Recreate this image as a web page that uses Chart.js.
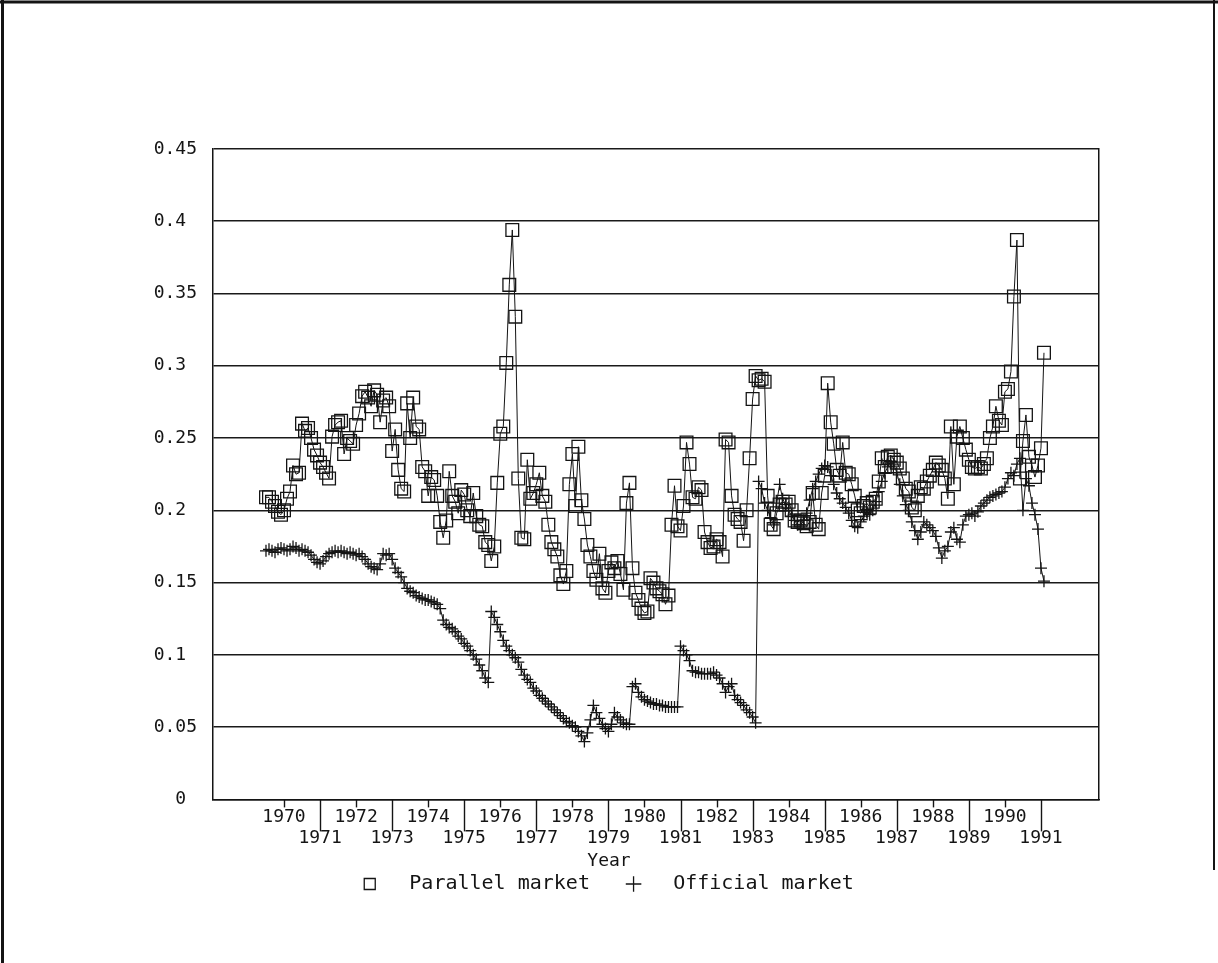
<!DOCTYPE html>
<html>
<head>
<meta charset="utf-8">
<script src="https://cdn.jsdelivr.net/npm/chart.js@4.4.1/dist/chart.umd.min.js"></script>
<style>
html, body { margin: 0; padding: 0; background: #fff; }
#wrap { width: 1218px; height: 963px; }
</style>
</head>
<body>
<div id="wrap"><canvas id="chart" width="1218" height="963"></canvas></div>
<script>
// monthly observations, first one at START_YEAR
var START_YEAR = 1969.5;

var parallelMarket = [
  0.209, 0.209, 0.206, 0.203, 0.199, 0.197, 0.200, 0.208, 0.213, 0.231, 0.225, 0.226,
  0.260, 0.255, 0.257, 0.250, 0.242, 0.238, 0.233, 0.230, 0.226, 0.222, 0.251, 0.259,
  0.261, 0.262, 0.239, 0.250, 0.248, 0.246, 0.259, 0.267, 0.279, 0.282, 0.278, 0.272,
  0.283, 0.280, 0.261, 0.276, 0.278, 0.272, 0.241, 0.256, 0.228, 0.215, 0.213, 0.274,
  0.250, 0.278, 0.258, 0.256, 0.230, 0.227, 0.210, 0.223, 0.221, 0.210, 0.192, 0.181,
  0.193, 0.227, 0.210, 0.206, 0.198, 0.214, 0.211, 0.200, 0.196, 0.212, 0.196, 0.190,
  0.189, 0.178, 0.176, 0.165, 0.175, 0.219, 0.253, 0.258, 0.302, 0.356, 0.394, 0.334,
  0.222, 0.181, 0.180, 0.235, 0.208, 0.212, 0.218, 0.226, 0.210, 0.206, 0.190, 0.178,
  0.173, 0.168, 0.155, 0.149, 0.158, 0.218, 0.239, 0.203, 0.244, 0.207, 0.194, 0.176,
  0.168, 0.158, 0.152, 0.170, 0.146, 0.143, 0.158, 0.164, 0.160, 0.165, 0.156, 0.145,
  0.205, 0.219, 0.160, 0.143, 0.138, 0.132, 0.129, 0.130, 0.153, 0.150, 0.146, 0.144,
  0.142, 0.135, 0.141, 0.190, 0.217, 0.189, 0.186, 0.203, 0.247, 0.232, 0.209, 0.208,
  0.216, 0.214, 0.185, 0.178, 0.174, 0.175, 0.180, 0.178, 0.168, 0.249, 0.247, 0.210,
  0.197, 0.194, 0.192, 0.179, 0.200, 0.236, 0.277, 0.293, 0.290, 0.291, 0.289, 0.210,
  0.190, 0.187, 0.198, 0.204, 0.206, 0.204, 0.206, 0.200, 0.193, 0.192, 0.193, 0.191,
  0.189, 0.192, 0.212, 0.190, 0.187, 0.212, 0.224, 0.288, 0.261, 0.246, 0.228, 0.224,
  0.247, 0.226, 0.225, 0.218, 0.210, 0.200, 0.198, 0.203, 0.205, 0.202, 0.206, 0.208,
  0.220, 0.236, 0.230, 0.237, 0.238, 0.235, 0.233, 0.229, 0.222, 0.215, 0.213, 0.202,
  0.200, 0.210, 0.216, 0.215, 0.220, 0.224, 0.228, 0.233, 0.231, 0.228, 0.222, 0.208,
  0.258, 0.218, 0.251, 0.258, 0.250, 0.242, 0.235, 0.230, 0.229, 0.230, 0.229, 0.232,
  0.236, 0.250, 0.258, 0.272, 0.262, 0.259, 0.282, 0.284, 0.296, 0.348, 0.387, 0.222,
  0.248, 0.266, 0.237, 0.231, 0.223, 0.231, 0.243, 0.309
];

var officialMarket = [
  0.172, 0.173, 0.172, 0.171, 0.173, 0.174, 0.173, 0.172, 0.173, 0.175, 0.174, 0.172,
  0.173, 0.172, 0.171, 0.169, 0.166, 0.164, 0.163, 0.165, 0.168, 0.170, 0.171, 0.172,
  0.171, 0.172, 0.171, 0.170, 0.171, 0.170, 0.169, 0.170, 0.168, 0.166, 0.163, 0.161,
  0.160, 0.159, 0.163, 0.170, 0.169, 0.170, 0.166, 0.160, 0.157, 0.154, 0.150, 0.146,
  0.144, 0.143, 0.141, 0.140, 0.139, 0.138, 0.138, 0.137, 0.136, 0.135, 0.132, 0.124,
  0.121, 0.119, 0.118, 0.116, 0.113, 0.111, 0.108, 0.106, 0.103, 0.100, 0.097, 0.093,
  0.089, 0.084, 0.081, 0.130, 0.126, 0.121, 0.116, 0.110, 0.106, 0.103, 0.100, 0.098,
  0.095, 0.090, 0.086, 0.083, 0.081, 0.077, 0.075, 0.072, 0.070, 0.068, 0.066, 0.064,
  0.062, 0.060, 0.058, 0.056, 0.054, 0.053, 0.051, 0.050, 0.047, 0.044, 0.040, 0.046,
  0.055, 0.065, 0.060, 0.056, 0.052, 0.049, 0.047, 0.052, 0.060, 0.057, 0.055, 0.053,
  0.052, 0.052, 0.078, 0.080, 0.074, 0.071, 0.069, 0.068, 0.067, 0.066, 0.066, 0.065,
  0.065, 0.064, 0.064, 0.064, 0.064, 0.064, 0.106, 0.103, 0.100, 0.096, 0.089, 0.088,
  0.088, 0.087, 0.087, 0.087, 0.087, 0.088, 0.086, 0.084, 0.080, 0.074, 0.078, 0.080,
  0.072, 0.069, 0.067, 0.065, 0.062, 0.060, 0.057, 0.053, 0.220, 0.215, 0.205, 0.200,
  0.195, 0.190, 0.205, 0.218, 0.208, 0.204, 0.200, 0.196, 0.193, 0.190, 0.190, 0.193,
  0.198, 0.207, 0.215, 0.220, 0.225, 0.229, 0.231, 0.230, 0.224, 0.218, 0.212, 0.208,
  0.205, 0.202, 0.198, 0.193, 0.189, 0.188, 0.192, 0.196, 0.199, 0.197, 0.200, 0.206,
  0.213, 0.220, 0.226, 0.230, 0.234, 0.232, 0.226, 0.218, 0.210, 0.204, 0.200, 0.192,
  0.186, 0.180, 0.185, 0.192, 0.190, 0.188, 0.186, 0.182, 0.174, 0.167, 0.172, 0.175,
  0.185, 0.188, 0.180, 0.178, 0.190, 0.196, 0.197, 0.198, 0.196, 0.199, 0.203, 0.205,
  0.207, 0.209, 0.210, 0.211, 0.212, 0.213, 0.216, 0.222, 0.226, 0.224, 0.232, 0.236,
  0.200, 0.222, 0.217, 0.205, 0.197, 0.187, 0.160, 0.151
];

var xTickYears = [1970, 1971, 1972, 1973, 1974, 1975, 1976, 1977, 1978, 1979, 1980,
  1981, 1982, 1983, 1984, 1985, 1986, 1987, 1988, 1989, 1990, 1991];
var yTickValues = [0, 0.05, 0.1, 0.15, 0.2, 0.25, 0.3, 0.35, 0.4, 0.45];
var yTickLabels = ['0 ', '0.05', '0.1 ', '0.15', '0.2 ', '0.25', '0.3 ', '0.35', '0.4 ', '0.45'];
var seriesNames = ['Parallel market', 'Official market'];
var axisTitle = 'Year';

var FONT = "'DejaVu Sans Mono', 'Liberation Mono', monospace";
var INK = '#141414';

function monthly(arr) {
  return arr.map(function(v, i) { return { x: START_YEAR + i / 12, y: v }; });
}

var framePlugin = {
  id: 'frame',
  beforeDraw: function(chart) {
    var c = chart.ctx;
    c.save();
    c.fillStyle = '#fff';
    c.fillRect(0, 0, chart.width, chart.height);
    c.restore();
  },
  afterDraw: function(chart) {
    var c = chart.ctx, xs = chart.scales.x, b = chart.chartArea.bottom;
    c.save();
    c.strokeStyle = INK;
    c.lineWidth = 1.4;
    // short ticks for the upper row of years, long ones for the lower row
    xTickYears.forEach(function(yr) {
      var px = Math.round(xs.getPixelForValue(yr)) + 0.5;
      c.beginPath();
      c.moveTo(px, b);
      c.lineTo(px, b + (yr % 2 ? 32 : 8));
      c.stroke();
    });
    // page border
    c.lineWidth = 3;
    c.beginPath();
    c.moveTo(0, 2); c.lineTo(chart.width, 2);
    c.moveTo(2.5, 0); c.lineTo(2.5, chart.height);
    c.stroke();
    c.lineWidth = 2;
    c.beginPath();
    c.moveTo(chart.width - 4, 0); c.lineTo(chart.width - 4, 870);
    c.stroke();
    c.restore();
  }
};

var ctx = document.getElementById('chart').getContext('2d');
new Chart(ctx, {
  type: 'line',
  data: {
    datasets: [{
      label: '  ' + seriesNames[0] + '   ',
      data: monthly(parallelMarket),
      borderColor: INK, borderWidth: 1, tension: 0, fill: false,
      backgroundColor: 'rgba(0,0,0,0)',
      pointStyle: 'rect', pointRadius: 9, pointBorderWidth: 1.3,
      pointBackgroundColor: 'rgba(0,0,0,0)', pointBorderColor: INK
    }, {
      label: '  ' + seriesNames[1],
      data: monthly(officialMarket),
      borderColor: INK, borderWidth: 1, tension: 0, fill: false,
      backgroundColor: 'rgba(0,0,0,0)',
      pointStyle: 'cross', pointRadius: 6, pointBorderWidth: 1.3,
      pointBackgroundColor: 'rgba(0,0,0,0)', pointBorderColor: INK
    }]
  },
  options: {
    responsive: false, animation: false, devicePixelRatio: 1,
    layout: { padding: { top: 149, left: 0, right: 0, bottom: 59 } },
    plugins: {
      legend: {
        position: 'bottom',
        labels: {
          usePointStyle: true, boxWidth: 11, boxHeight: 11, padding: 2,
          color: INK, font: { family: FONT, size: 20 }
        }
      },
      title: {
        display: true, text: axisTitle, position: 'bottom', weight: 500,
        padding: { top: 1, bottom: 0 }, color: INK,
        font: { family: FONT, size: 18, weight: 'normal' }
      },
      tooltip: { enabled: false }
    },
    scales: {
      x: {
        type: 'linear', min: 1968.03, max: 1992.61,
        afterBuildTicks: function(s) { s.ticks = xTickYears.map(function(y) { return { value: y }; }); },
        afterFit: function(s) { s.height = 50; },
        grid: { display: false, drawTicks: false },
        border: { display: true, color: INK, width: 1.5 },
        ticks: {
          autoSkip: false, maxRotation: 0, minRotation: 0, padding: 7,
          color: INK, font: { family: FONT, size: 18 },
          callback: function(v) { return v % 2 === 0 ? String(v) : ['', String(v)]; }
        }
      },
      y: {
        min: 0, max: 0.45,
        afterBuildTicks: function(s) { s.ticks = yTickValues.map(function(v) { return { value: v }; }); },
        afterFit: function(s) { s.width = 213; },
        grid: { color: '#1a1a1a', lineWidth: 1.6, drawTicks: false },
        border: { display: true, color: INK, width: 1.5 },
        ticks: {
          padding: 16, color: INK, font: { family: FONT, size: 18 },
          callback: function(v, i) { return yTickLabels[i]; }
        }
      },
      y2: {
        position: 'right',
        afterFit: function(s) { s.width = 119; },
        grid: { display: false, drawTicks: false },
        ticks: { display: false },
        border: { display: true, color: INK, width: 1.5 }
      }
    }
  },
  plugins: [framePlugin]
});
</script>
</body>
</html>
